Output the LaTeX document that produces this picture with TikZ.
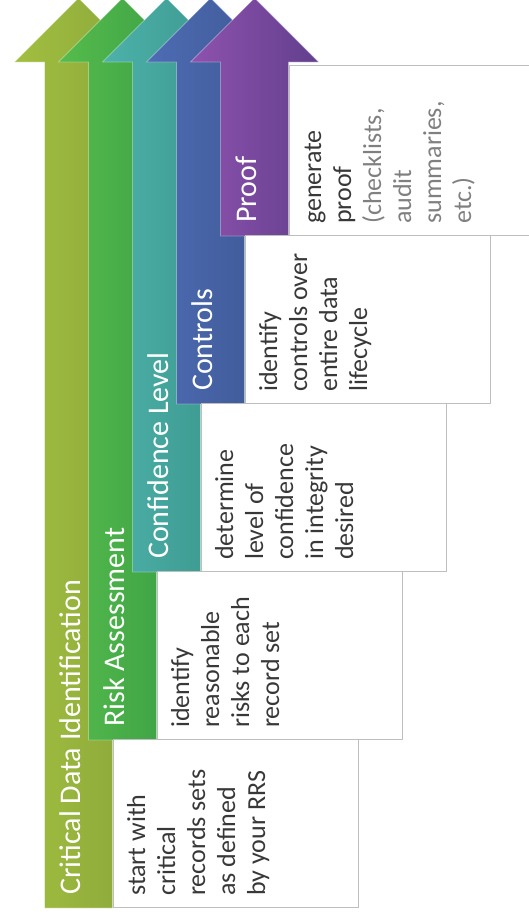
\documentclass[tikz,border=0pt]{standalone}
\usepackage{fontspec}
\setmainfont{Carlito}
\definecolor{aAl}{HTML}{A2BF40}
\definecolor{aAr}{HTML}{8AA63A}
\definecolor{aBl}{HTML}{55BC4C}
\definecolor{aBr}{HTML}{3A9E44}
\definecolor{aCl}{HTML}{4DB2AA}
\definecolor{aCr}{HTML}{3A968C}
\definecolor{aDl}{HTML}{4E6CB4}
\definecolor{aDr}{HTML}{3D5894}
\definecolor{aEl}{HTML}{8E52AE}
\definecolor{aEr}{HTML}{623F8D}
\definecolor{boxgray}{HTML}{BDBFBC}
\definecolor{txt}{HTML}{383838}
\definecolor{txtlight}{HTML}{808080}
\begin{document}
\begin{tikzpicture}[x=1pt,y=-1pt]
\tikzset{
  stepbox/.style={draw=boxgray, line width=1.3pt, fill=white, inner sep=0pt,
    minimum width=245pt, minimum height=168pt, anchor=south west},
  steptext/.style={rotate=90, anchor=north west, align=left, inner sep=0pt,
    text=txt, font=\fontsize{26}{30}\selectfont},
  steplabel/.style={rotate=90, anchor=base west, inner sep=0pt, text=white,
    font=\fontsize{30}{36}\selectfont},
  arrowedge/.style={draw=white, draw opacity=0.35, line width=0.8pt}
}
\clip (0,0) rectangle (529,924);
\fill[white] (0,0) rectangle (529,924);
% arrows
\foreach \i/\B/\cl/\cr in {0/908/aAl/aAr, 1/740/aBl/aBr, 2/572/aCl/aCr, 3/404/aDl/aDr, 4/236/aEl/aEr}{
  \pgfmathsetmacro{\c}{78.5+44*\i}
  \shade[left color=\cl, right color=\cr, arrowedge]
    (\c-34,\B) -- (\c-34,62) -- (\c-64,62) -- (\c,-2) -- (\c+64,62)
    -- (\c+34,62) -- (\c+34,\B) -- cycle;
}
% boxes
\node[stepbox] (b1) at (113,908) {};
\node[stepbox] (b2) at (157,740) {};
\node[stepbox] (b3) at (201,572) {};
\node[stepbox] (b4) at (245,404) {};
\node[stepbox, minimum height=170pt] (b5) at (289,236) {};
% labels
\node[steplabel] (l1) at (80,895) {Critical Data Identification};
\node[steplabel] (l2) at (124,727) {Risk Assessment};
\node[steplabel] (l3) at (168,559) {Confidence Level};
\node[steplabel] (l4) at (212,391) {Controls};
\node[steplabel] (l5) at (256,223) {Proof};
% texts
\node[steptext] (t1) at (124,896) {\strut start with\\critical\\records sets\\as defined\\by your RRS};
\node[steptext] (t2) at (168,728) {\strut identify\\reasonable\\risks to each\\record set};
\node[steptext] (t3) at (212,560) {\strut determine\\level of\\confidence\\in integrity\\desired};
\node[steptext] (t4) at (256,392) {\strut identify\\controls over\\entire data\\lifecycle};
\node[steptext] (t5) at (300,224) {\strut generate\\proof\\\textcolor{txtlight}{(checklists,}\\\textcolor{txtlight}{audit}\\\textcolor{txtlight}{summaries,}\\\textcolor{txtlight}{etc.)}};
\end{tikzpicture}
\end{document}
